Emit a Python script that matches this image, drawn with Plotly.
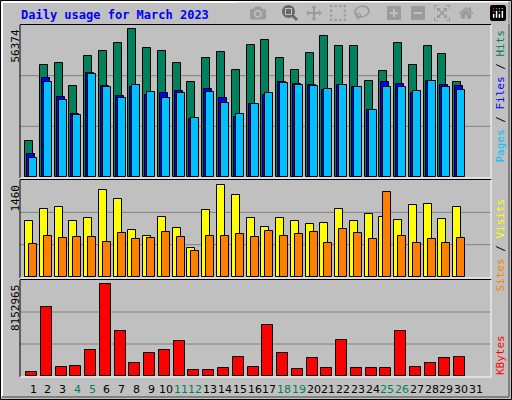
import plotly.graph_objects as go

days = list(range(1, 31))
hits = [13900,42600,43700,34900,46400,48300,51000,56374,49100,48300,43700,36100,45300,47600,40700,
        50600,52500,45300,40700,47200,53700,49900,49900,36500,40300,51000,42600,49900,46800,36100]
files = [8800,38000,30400,24200,39600,34600,30900,34200,31500,31900,32700,22300,33800,30000,23000,
         27700,31500,36200,35400,35000,33100,35000,34200,25500,36200,35400,31900,36600,35000,34600]
pages = [7300,36200,29300,23800,39200,34200,30200,35000,32300,30000,31900,22700,32300,28400,24200,
         28000,31900,35800,35000,34600,33500,35000,34200,25500,34200,34200,32700,36600,34200,33100]
visits = [876,1066,1097,876,924,1376,1233,734,639,940,766,464,1050,1455,1297,
          924,782,924,876,829,845,1066,876,987,940,892,1129,1144,908,1097]
sites = [513,640,608,624,624,545,687,592,608,703,624,417,640,640,671,
         624,719,640,671,703,529,750,687,592,1334,640,529,592,529,608]
kbytes = [386000,6154000,832000,921000,2350000,8152965,3957000,1130000,2023000,2291000,3093000,565000,
          565000,744000,1726000,832000,4552000,2082000,654000,1637000,744000,3182000,744000,744000,
          744000,4017000,832000,1190000,1637000,1726000]
day_labels = [str(d) for d in range(1, 32)]
weekend = {4, 5, 11, 12, 18, 19, 25, 26}

W, H = 512, 400
def px(x): return x / W
def py(y): return 1 - y / H

fig = go.Figure()
DAY = 14.767
def off(p): return p / DAY

def bar(x, y, color, left, width, xa, ya):
    fig.add_trace(go.Bar(x=x, y=y, marker=dict(color=color, line=dict(color="black", width=1)),
                         offset=off(left), width=off(width), xaxis=xa, yaxis=ya, showlegend=False,
                         hoverinfo="skip"))

bar(days, hits, "#00805C", -8, 8, "x", "y")
bar(days, files, "#0000FF", -6, 8, "x", "y")
bar(days, pages, "#00C0FF", -4, 8, "x", "y")
bar(days, visits, "#FFFF00", -8, 8, "x2", "y2")
bar(days, sites, "#FF8000", -4, 8, "x2", "y2")
bar(days, kbytes, "#FF0000", -7, 11, "x3", "y3")

xr = [1 - 13 / DAY, 31 + 15 / DAY]
xdom = [px(20), px(491)]
panels = [(25, 177, 29.4, 56374), (180, 277, 184.3, 1460), (280, 376, 284.3, 8152965)]

lay = dict(width=W, height=H, margin=dict(l=0, r=0, t=0, b=0), paper_bgcolor="#C0C0C0",
           plot_bgcolor="#C0C0C0", bargap=0, barmode="overlay",
           font=dict(family="DejaVu Sans Mono", size=11, color="black"))
shapes = []
for i, (top, bot, vmax_px, vmax) in enumerate(panels):
    s = "" if i == 0 else str(i + 1)
    rmax = vmax * (bot - top) / (bot - vmax_px)
    lay["yaxis" + s] = dict(domain=[py(bot), py(top)], range=[0, rmax], showgrid=False,
                            showticklabels=False, zeroline=False, anchor="x" + s)
    lay["xaxis" + s] = dict(domain=xdom, range=xr, anchor="y" + s, showgrid=False, zeroline=False,
                            showticklabels=False, ticks="")
    for k in (1, 2):
        yy = bot - (bot - top) * k / 3
        shapes.append(dict(type="line", xref="paper", yref="paper", x0=px(20), x1=px(491),
                           y0=py(yy), y1=py(yy), line=dict(color="#808080", width=1), layer="below"))
    shapes.append(dict(type="line", xref="paper", yref="paper", x0=px(20), x1=px(491), y0=py(top-0.5), y1=py(top-0.5), line=dict(color="black", width=1)))
    shapes.append(dict(type="line", xref="paper", yref="paper", x0=px(20), x1=px(20), y0=py(top), y1=py(bot+1), line=dict(color="black", width=1)))
    shapes.append(dict(type="line", xref="paper", yref="paper", x0=px(491), x1=px(491), y0=py(top), y1=py(bot+1), line=dict(color="white", width=1)))
    shapes.append(dict(type="line", xref="paper", yref="paper", x0=px(20), x1=px(491), y0=py(bot+1), y1=py(bot+1), line=dict(color="white", width=1)))
shapes.append(dict(type="rect", xref="paper", yref="paper", x0=px(0.5), x1=px(511.5), y0=py(0.5), y1=py(399.5), line=dict(color="black", width=1)))
shapes.append(dict(type="line", xref="paper", yref="paper", x0=px(2), x1=px(509), y0=py(2), y1=py(2), line=dict(color="white", width=2)))
shapes.append(dict(type="line", xref="paper", yref="paper", x0=px(2), x1=px(2), y0=py(2), y1=py(397), line=dict(color="white", width=2)))
shapes.append(dict(type="line", xref="paper", yref="paper", x0=px(509), x1=px(509), y0=py(2), y1=py(397), line=dict(color="#808080", width=2)))
shapes.append(dict(type="line", xref="paper", yref="paper", x0=px(2), x1=px(509), y0=py(397), y1=py(397), line=dict(color="#808080", width=2)))
lay["shapes"] = shapes

def ann(text, x, y, xa="center", ya="middle", angle=0, size=11, color="black", bold=False):
    return dict(text=text, x=px(x), y=py(y), xref="paper", yref="paper", xanchor=xa, yanchor=ya,
                textangle=angle, showarrow=False,
                font=dict(family="DejaVu Sans Mono", size=size, color=color,
                          weight="bold" if bold else "normal"))

anns = [
    ann("Daily usage for March 2023", 19, 15, xa="left", size=12, color="#0000FF", bold=True),
    ann("56374", 15, 28, ya="top", angle=-90),
    ann("1460", 15, 183, ya="top", angle=-90),
    ann("8152965", 15, 283, ya="top", angle=-90),
    ann('<span style="color:#00C0FF">Pages</span> / <span style="color:#0000FF">Files</span> / <span style="color:#00805C">Hits</span>',
        500, 28, ya="top", angle=-90),
    ann('<span style="color:#FF8000">Sites</span> / <span style="color:#FFFF00">Visits</span>',
        500, 197, ya="top", angle=-90),
    ann("KBytes", 500, 377, ya="bottom", angle=-90, color="#FF0000"),
]
for i, lab in enumerate(day_labels):
    d = i + 1
    anns.append(dict(text=lab, x=d, y=py(389), xref="x3", yref="paper", showarrow=False,
                     xanchor="center", yanchor="middle",
                     font=dict(family="DejaVu Sans", size=11,
                               color="#00805C" if d in weekend else "black")))
lay["annotations"] = anns
fig.update_layout(**lay)
fig.write_html("out.html",
               post_script="document.body.style.margin='0';document.body.style.overflow='hidden';")
